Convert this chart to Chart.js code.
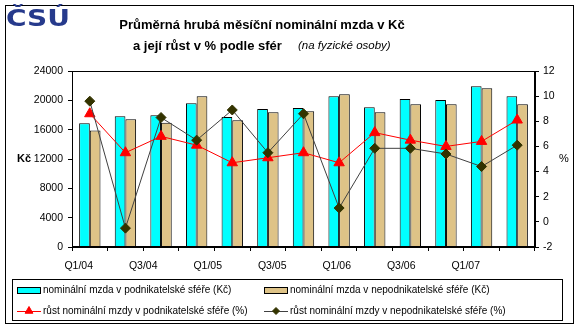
<!DOCTYPE html>
<html>
<head>
<meta charset="utf-8">
<script src="https://cdn.jsdelivr.net/npm/chart.js@4/dist/chart.umd.min.js"></script>
<style>
  html, body { margin: 0; padding: 0; background: #fff; }
  #wrap { position: relative; width: 580px; height: 329px; }
</style>
</head>
<body>
<div id="wrap"><canvas id="mzdy" width="580" height="329"></canvas></div>
<script>
// quarters Q1/04 .. Q1/07
const quarters = ["Q1/04", "Q2/04", "Q3/04", "Q4/04", "Q1/05", "Q2/05", "Q3/05", "Q4/05",
                  "Q1/06", "Q2/06", "Q3/06", "Q4/06", "Q1/07"];
// every other quarter is labelled
const xLabels = ["Q1/04", "Q3/04", "Q1/05", "Q3/05", "Q1/06", "Q3/06", "Q1/07"];

const mzdaPodnik = [16870, 17820, 17960, 19600, 17730, 18820, 18950, 20550, 19050, 20180, 20050, 21910, 20550];
const mzdaNepodnik = [15900, 17410, 16950, 20550, 17270, 18370, 18500, 20820, 18370, 19460, 19460, 21640, 19460];
const rustPodnik = [8.6, 5.5, 6.8, 6.1, 4.7, 5.1, 5.5, 4.7, 7.1, 6.5, 6.0, 6.4, 8.1];
const rustNepodnik = [9.6, -0.5, 8.3, 6.5, 8.9, 5.5, 8.6, 1.1, 5.85, 5.85, 5.4, 4.4, 6.1];

const leftTicks = [0, 4000, 8000, 12000, 16000, 20000, 24000];
const rightTicks = [-2, 0, 2, 4, 6, 8, 10, 12];

const CYAN = "#00FFFF";
const TAN = "#DEC387";
const RED = "#FF0000";
const OLIVE = "#333300";
const AXIS_FONT = { family: "'Liberation Sans', Arial", size: 10.5 };

// frame, titles, axis names and the two-column legend
const decor = {
  id: "decor",
  beforeDraw(chart) {
    const ctx = chart.ctx;
    ctx.save();
    ctx.fillStyle = "#fff";
    ctx.fillRect(0, 0, chart.width, chart.height);
    ctx.restore();
  },
  afterDraw(chart) {
    const ctx = chart.ctx;
    const a = chart.chartArea;
    ctx.save();
    ctx.strokeStyle = "#000";
    ctx.lineWidth = 1;
    ctx.strokeRect(a.left + 0.5, a.top + 0.5, a.right - a.left - 1, a.bottom - a.top - 1);
    ctx.strokeRect(5.5, 5.5, 568, 318);

    // logo
    ctx.save();
    ctx.fillStyle = "#263A8C";
    ctx.font = "bold 23px 'DejaVu Sans'";
    ctx.textBaseline = "alphabetic";
    ctx.scale(1.22, 1);
    ctx.fillText("ČSÚ", 6 / 1.22, 26);
    ctx.restore();

    ctx.fillStyle = "#000";
    ctx.textBaseline = "middle";
    ctx.textAlign = "center";
    ctx.font = "bold 13px 'Liberation Sans', Arial";
    ctx.fillText("Průměrná hrubá měsíční nominální mzda v Kč", 262, 25);
    ctx.textAlign = "left";
    ctx.fillText("a její růst v % podle sfér", 133, 46);
    ctx.font = "italic 11.5px 'Liberation Sans', Arial";
    ctx.fillText("(na fyzické osoby)", 298, 46);

    ctx.font = "bold 11px 'Liberation Sans', Arial";
    ctx.fillText("Kč", 17, 159);
    ctx.font = "11px 'Liberation Sans', Arial";
    ctx.fillText("%", 559, 159);

    // legend
    ctx.strokeRect(12.5, 279.5, 550, 41);
    const ds = chart.data.datasets;
    const cols = [17, 264];
    const rows = [290, 311];
    ctx.font = "10px 'Liberation Sans', Arial";
    [0, 1].forEach((i) => {
      const x = cols[i], y = rows[0];
      ctx.fillStyle = ds[i].backgroundColor;
      ctx.fillRect(x, y - 3, 24, 7);
      ctx.strokeRect(x + 0.5, y - 3 + 0.5, 23, 6);
      ctx.fillStyle = "#000";
      ctx.fillText(ds[i].label, x + 26, y);
    });
    [2, 3].forEach((i, k) => {
      const x = cols[k], y = rows[1];
      ctx.strokeStyle = ds[i].borderColor;
      ctx.beginPath();
      ctx.moveTo(x, y + 0.5);
      ctx.lineTo(x + 24, y + 0.5);
      ctx.stroke();
      ctx.fillStyle = ds[i].pointBackgroundColor;
      ctx.strokeStyle = ds[i].pointBackgroundColor;
      Chart.helpers.drawPoint(ctx, { pointStyle: ds[i].pointStyle, radius: i === 2 ? 4.5 : 3.5, borderWidth: 1, rotation: 0 }, x + 12, y);
      ctx.fillStyle = "#000";
      ctx.fillText(ds[i].label, x + 26, y);
    });
    ctx.restore();
  }
};

new Chart(document.getElementById("mzdy"), {
  type: "bar",
  data: {
    labels: quarters,
    datasets: [
      {
        label: "nominální mzda v podnikatelské sféře (Kč)",
        data: mzdaPodnik,
        backgroundColor: CYAN,
        borderColor: "#000",
        borderWidth: 1,
        yAxisID: "y",
        order: 2,
        categoryPercentage: 0.6,
        barPercentage: 1.0
      },
      {
        label: "nominální mzda v nepodnikatelské sféře (Kč)",
        data: mzdaNepodnik,
        backgroundColor: TAN,
        borderColor: "#000",
        borderWidth: 1,
        yAxisID: "y",
        order: 2,
        categoryPercentage: 0.6,
        barPercentage: 1.0
      },
      {
        type: "line",
        label: "růst nominální mzdy v podnikatelské sféře (%)",
        data: rustPodnik,
        borderColor: RED,
        borderWidth: 1,
        pointStyle: "triangle",
        pointRadius: 6,
        pointBackgroundColor: RED,
        pointBorderColor: RED,
        yAxisID: "y1",
        order: 1
      },
      {
        type: "line",
        label: "růst nominální mzdy v nepodnikatelské sféře (%)",
        data: rustNepodnik,
        borderColor: "#404040",
        borderWidth: 1,
        pointStyle: "rectRot",
        pointRadius: 5,
        pointBackgroundColor: OLIVE,
        pointBorderColor: OLIVE,
        yAxisID: "y1",
        order: 0
      }
    ]
  },
  options: {
    responsive: false,
    animation: false,
    events: [],
    layout: { padding: { top: 71, left: 0, right: 0, bottom: 0 } },
    plugins: {
      legend: { display: false },
      title: { display: false },
      tooltip: { enabled: false }
    },
    scales: {
      x: {
        type: "category",
        position: "bottom",
        offset: true,
        grid: { display: true, drawOnChartArea: false, offset: true, tickLength: 4, color: "#000" },
        border: { display: true, color: "#000" },
        ticks: { display: false },
        afterFit: (s) => { s.height = 4; }
      },
      x2: {
        type: "linear",
        position: "bottom",
        offset: false,
        min: -0.104,
        max: 7.074,
        grid: { display: false, offset: false },
        border: { display: false },
        afterBuildTicks: (s) => { s.ticks = xLabels.map((_, i) => ({ value: i })); },
        ticks: {
          autoSkip: false,
          maxRotation: 0,
          padding: 1,
          color: "#000",
          font: AXIS_FONT,
          callback: (v) => xLabels[v]
        },
        afterFit: (s) => { s.height = 78; }
      },
      y: {
        position: "left",
        min: 0,
        max: 24000,
        afterBuildTicks: (s) => { s.ticks = leftTicks.map((v) => ({ value: v })); },
        grid: { drawOnChartArea: false, tickLength: 4, color: "#000" },
        border: { color: "#000" },
        ticks: { padding: 5, color: "#000", font: AXIS_FONT, callback: (v) => String(v) },
        afterFit: (s) => { s.width = 72; }
      },
      y1: {
        position: "right",
        min: -2,
        max: 12,
        afterBuildTicks: (s) => { s.ticks = rightTicks.map((v) => ({ value: v })); },
        grid: { drawOnChartArea: false, tickLength: 4, color: "#000" },
        border: { color: "#000" },
        ticks: { padding: 4, color: "#000", font: AXIS_FONT, callback: (v) => String(v) },
        afterFit: (s) => { s.width = 45; }
      }
    }
  },
  plugins: [decor]
});
</script>
</body>
</html>
